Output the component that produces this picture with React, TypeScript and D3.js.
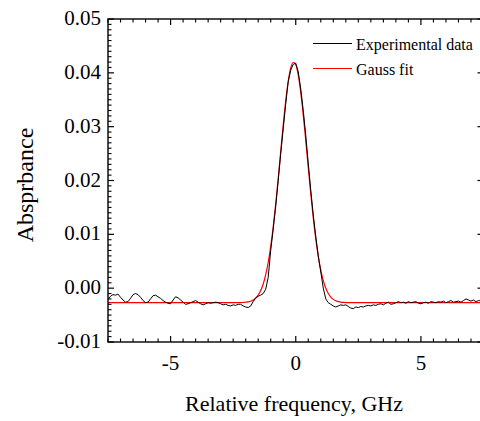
import React from "react";
import * as d3 from "d3";

// ---- data ----
const xTicks = [-5, 0, 5];
const xTickLabels = ["-5", "0", "5"];
const yTicks = [-0.01, 0, 0.01, 0.02, 0.03, 0.04, 0.05];
const yTickLabels = ["-0.01", "0.00", "0.01", "0.02", "0.03", "0.04", "0.05"];

// Experimental data: absorbance x 1e4, sampled from -7.5 GHz in 0.1 GHz steps
const expStart = -7.5;
const expStep = 0.1;
const expY = [
  // -7.5 .. -1.7
  -21, -15, -12, -13, -11, -17, -22, -26, -25, -19,
  -12, -10, -12, -17, -23, -27, -26, -20, -14, -13,
  -16, -19, -23, -26, -28, -29, -22, -16, -18, -22,
  -26, -30, -29, -27, -25, -23, -26, -29, -31, -29,
  -27, -28, -27, -26, -27, -29, -31, -30, -32, -33,
  -31, -32, -30, -30, -33, -35, -36, -33, -25,
  // -1.6 .. 1.2
  -18, -15, -13, -10, -2, 20, 70, 110, 152, 200,
  250, 296, 343, 384, 405, 416, 418, 402, 370, 330,
  284, 232, 182, 136, 96, 60, 30, 0, -20,
  // 1.3 .. 7.5
  -27, -30, -33, -35, -33, -31, -32, -31, -34, -37,
  -38, -35, -36, -34, -35, -33, -32, -33, -31, -32,
  -30, -29, -31, -28, -26, -30, -29, -27, -25, -27,
  -26, -28, -25, -27, -26, -25, -28, -29, -27, -26,
  -28, -25, -26, -27, -25, -26, -24, -27, -25, -23,
  -26, -25, -24, -26, -23, -20, -22, -24, -22, -25,
  -23, -24, -25,
];

// Gauss fit curve: x (GHz), absorbance x 1e4
const fitX = [
  -7.5, -2.3, -2.1, -1.9, -1.8, -1.7, -1.6, -1.5, -1.4, -1.3, -1.2, -1.1, -1.0,
  -0.9, -0.8, -0.7, -0.6, -0.5, -0.4, -0.3, -0.2, -0.1, 0.0, 0.1, 0.2, 0.3, 0.4,
  0.5, 0.6, 0.7, 0.8, 0.9, 1.0, 1.1, 1.2, 1.3, 1.4, 1.5, 1.6, 1.7, 1.8, 1.9, 2.1,
  2.3, 7.5,
];
const fitY = [
  -27, -26.9, -26.6, -25.5, -24.2, -22.0, -18.5, -12.9, -4.5, 7.8, 25.0, 48.1,
  77.7, 114.1, 156.8, 204.2, 254.2, 303.3, 348.0, 384.4, 409.1, 419.7, 415.1,
  395.9, 363.7, 322.0, 274.1, 224.1, 175.3, 130.5, 91.5, 59.1, 33.5, 14.1, -0.1,
  -9.9, -16.5, -20.8, -23.5, -25.0, -26.0, -26.5, -26.85, -26.95, -27,
];

const legendLabels = ["Experimental data", "Gauss fit"];
const seriesColors = ["#000000", "#ff0000"];

// ---- layout ----
const W = 480;
const H = 421;
const left = 108;
const right = 483.5;
const top = 19;
const bottom = 342;
const FONT = "'Times New Roman', 'Liberation Serif', serif";

export default function App() {
  const x = d3.scaleLinear().domain([-7.5, 7.5]).range([left, right]);
  const y = d3.scaleLinear().domain([-0.01, 0.05]).range([bottom, top]);

  const expPts: [number, number][] = expY.map((v, i) => [
    expStart + i * expStep,
    v / 1e4,
  ]);
  const fitPts: [number, number][] = fitX.map((xv, i) => [xv, fitY[i] / 1e4]);

  const line = d3
    .line<[number, number]>()
    .x((d) => x(d[0]))
    .y((d) => y(d[1]));
  const fitLine = d3
    .line<[number, number]>()
    .x((d) => x(d[0]))
    .y((d) => y(d[1]))
    .curve(d3.curveMonotoneX);

  const xMinor = d3.range(-7.5, 7.5001, 0.5).filter(
    (v) => !xTicks.some((t) => Math.abs(t - v) < 1e-6)
  );
  const yMinor = d3.range(-0.01, 0.05001, 0.001).filter(
    (v) => !yTicks.some((t) => Math.abs(t - v) < 1e-7)
  );

  const MAJ = 6;
  const MIN = 3.5;
  const stroke = "#000";
  const txt = { fontFamily: FONT };

  return (
    <svg
      width={W}
      height={H}
      style={{ position: "absolute", left: 0, top: 0, background: "#fff" }}
    >
      <defs>
        <clipPath id="plotclip">
          <rect x={left} y={top} width={right - left} height={bottom - top} />
        </clipPath>
      </defs>

      {/* data */}
      <g clipPath="url(#plotclip)">
        <path d={fitLine(fitPts) || ""} fill="none" stroke={seriesColors[1]} strokeWidth={1.2} />
        <path d={line(expPts) || ""} fill="none" stroke={seriesColors[0]} strokeWidth={1} />
      </g>

      {/* frame */}
      <rect
        x={left}
        y={top}
        width={right - left}
        height={bottom - top}
        fill="none"
        stroke={stroke}
        strokeWidth={1.4}
      />

      {/* x ticks */}
      {xTicks.map((t) => (
        <g key={"xt" + t}>
          <line x1={x(t)} x2={x(t)} y1={bottom} y2={bottom - MAJ} stroke={stroke} strokeWidth={1.2} />
          <line x1={x(t)} x2={x(t)} y1={top} y2={top + MAJ} stroke={stroke} strokeWidth={1.2} />
        </g>
      ))}
      {xMinor.map((t) => (
        <g key={"xm" + t}>
          <line x1={x(t)} x2={x(t)} y1={bottom} y2={bottom - MIN} stroke={stroke} strokeWidth={1.1} />
          <line x1={x(t)} x2={x(t)} y1={top} y2={top + MIN} stroke={stroke} strokeWidth={1.1} />
        </g>
      ))}
      {/* y ticks */}
      {yTicks.map((t) => (
        <g key={"yt" + t}>
          <line x1={left} x2={left + MAJ} y1={y(t)} y2={y(t)} stroke={stroke} strokeWidth={1.2} />
          <line x1={right} x2={right - MAJ} y1={y(t)} y2={y(t)} stroke={stroke} strokeWidth={1.2} />
        </g>
      ))}
      {yMinor.map((t) => (
        <g key={"ym" + t}>
          <line x1={left} x2={left + MIN} y1={y(t)} y2={y(t)} stroke={stroke} strokeWidth={1.1} />
          <line x1={right} x2={right - MIN} y1={y(t)} y2={y(t)} stroke={stroke} strokeWidth={1.1} />
        </g>
      ))}

      {/* tick labels */}
      {xTicks.map((t, i) => (
        <text key={"xl" + t} x={x(t)} y={370} textAnchor="middle" fontSize={21} fill="#000" style={txt}>
          {xTickLabels[i]}
        </text>
      ))}
      {yTicks.map((t, i) => (
        <text
          key={"yl" + t}
          x={101}
          y={y(t) + 6}
          textAnchor="end"
          fontSize={21}
          fill="#000"
          style={txt}
        >
          {yTickLabels[i]}
        </text>
      ))}

      {/* axis titles */}
      <text x={294} y={411} textAnchor="middle" fontSize={22} fill="#000" style={txt}>
        Relative frequency, GHz
      </text>
      <text
        transform={`translate(33, ${185}) rotate(-90)`}
        textAnchor="middle"
        fontSize={24}
        fill="#000"
        style={txt}
      >
        Absprbance
      </text>

      {/* legend */}
      {legendLabels.map((lab, i) => (
        <g key={lab}>
          <line
            x1={313}
            x2={352}
            y1={43.5 + i * 25}
            y2={43.5 + i * 25}
            stroke={seriesColors[i]}
            strokeWidth={1.2}
          />
          <text x={356} y={49.5 + i * 25} fontSize={16} fill="#000" style={txt}>
            {lab}
          </text>
        </g>
      ))}
    </svg>
  );
}
